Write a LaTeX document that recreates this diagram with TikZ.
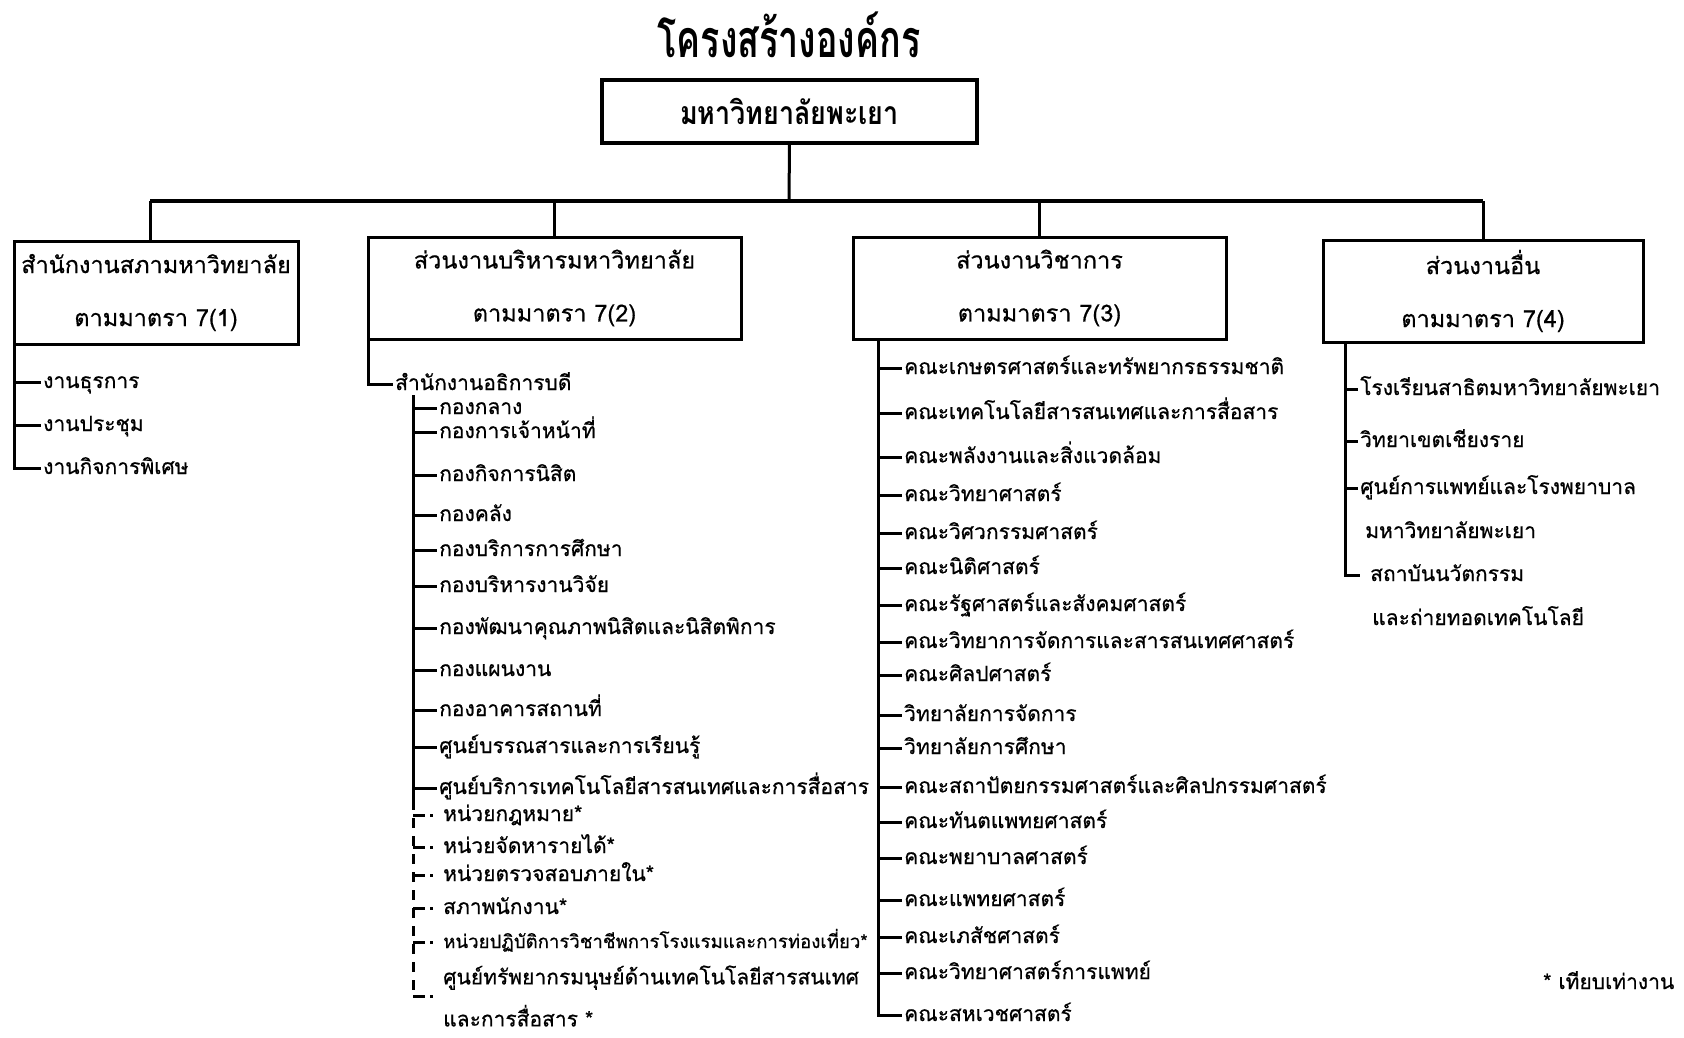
\documentclass[tikz,border=0pt]{standalone}
\usepackage{fontspec}
\newfontfamily\thaifont[Script=Thai, FakeBold=0.6]{Loma}
\newfontfamily\thaihead[Script=Thai]{Loma}
\usetikzlibrary{positioning}
\usetikzlibrary{calc}
\tikzset{>=latex}
\tikzset{unit/.style={rectangle, draw, line width=3pt, outer sep=0pt, align=center, font=\thaifont\fontsize{23.5}{53}\selectfont}}
\tikzset{item/.style={anchor=west, inner sep=2pt, text height=18pt, text depth=6pt, font=\thaifont\fontsize{21}{44}\selectfont}}
\tikzset{item2/.style={anchor=west, inner sep=1pt, align=left, font=\thaifont\fontsize{21}{42}\selectfont}}
\tikzset{link/.style={draw, line width=3pt}}
\tikzset{dlink/.style={draw, line width=3pt, dash pattern=on 12pt off 5pt on 3pt off 20pt}}
\tikzset{vlink/.style={draw, line width=3pt, dash pattern=on 10pt off 8pt}}

\begin{document}
\begin{tikzpicture}[x=1pt, y=-1pt]
    \useasboundingbox (0,0) rectangle (1684,1037);

    % ------- Title and university ------- %
    \node (title) at (789,35) {\scalebox{0.69}[1]{\thaihead\bfseries\fontsize{52}{52}\selectfont โครงสร้างองค์กร}};
    \node [unit, line width=3.4pt, minimum width=375pt, minimum height=63pt] (top) at (789.5,111.5)
        {\scalebox{0.84}[1]{\thaihead\bfseries\fontsize{32}{32}\selectfont มหาวิทยาลัยพะเยา}};

    \node [unit, minimum width=284pt, minimum height=103pt] (b1) at (156,292.5) {สำนักงานสภามหาวิทยาลัย\\ตามมาตรา 7(1)};
    \node [unit, minimum width=373pt, minimum height=102pt] (b2) at (554.5,288) {ส่วนงานบริหารมหาวิทยาลัย\\ตามมาตรา 7(2)};
    \node [unit, minimum width=373pt, minimum height=102pt] (b3) at (1039.5,288) {ส่วนงานวิชาการ\\ตามมาตรา 7(3)};
    \node [unit, minimum width=320pt, minimum height=102pt] (b4) at (1483,291) {ส่วนงานอื่น\\ตามมาตรา 7(4)};

    \coordinate (bar) at (789,201);
    \coordinate (d0) at ($(b1.north) + (-6,0)$);
    \draw [link] (top.south) -- (bar);
    \draw [link, line width=3.6pt] (d0 |- bar) -- (b4.north |- bar);
    \draw [link] (d0 |- bar) -- (d0);
    \draw [link] (b2.north |- bar) -- (b2.north);
    \draw [link] (b3.north |- bar) -- (b3.north);
    \draw [link] (b4.north |- bar) -- (b4.north);

    % ------- Start 7(1) ------- %
    \node [item] (s1) at (41,382) {งานธุรการ};
    \node [item] (s2) at (41,425) {งานประชุม};
    \node [item] (s3) at (41,468) {งานกิจการพิเศษ};
    \draw [link] (b1.south west) |- (s3.west);
    \draw [link] (b1.south west |- s1.west) -- (s1.west);
    \draw [link] (b1.south west |- s2.west) -- (s2.west);
    % ------- End 7(1) ------- %

    % ------- Start 7(2) ------- %
    \node [item] (ob) at (393,384) {สำนักงานอธิการบดี};
    \draw [link] (b2.south west) |- (ob.west);

    \node [item] (g1) at (437,408) {กองกลาง};
    \node [item] (g2) at (437,432) {กองการเจ้าหน้าที่};
    \node [item] (g3) at (437,475) {กองกิจการนิสิต};
    \node [item] (g4) at (437,515) {กองคลัง};
    \node [item] (g5) at (437,550) {กองบริการการศึกษา};
    \node [item] (g6) at (437,586) {กองบริหารงานวิจัย};
    \node [item] (g7) at (437,628) {กองพัฒนาคุณภาพนิสิตและนิสิตพิการ};
    \node [item] (g8) at (437,670) {กองแผนงาน};
    \node [item] (g9) at (437,710) {กองอาคารสถานที่};
    \node [item] (g10) at (437,747) {ศูนย์บรรณสารและการเรียนรู้};
    \node [item] (g11) at (437,788) {ศูนย์บริการเทคโนโลยีสารสนเทศและการสื่อสาร};

    \node [item] (d1) at (441,815) {หน่วยกฎหมาย*};
    \node [item] (d2) at (441,847) {หน่วยจัดหารายได้*};
    \node [item] (d3) at (441,875) {หน่วยตรวจสอบภายใน*};
    \node [item] (d4) at (441,908) {สภาพนักงาน*};
    \node [item, font=\thaifont\fontsize{18.6}{19}\selectfont] (d5) at (441,942) {หน่วยปฏิบัติการวิชาชีพการโรงแรมและการท่องเที่ยว*};
    \node [item2] (d6) at (442,996) {ศูนย์ทรัพยากรมนุษย์ด้านเทคโนโลยีสารสนเทศ\\และการสื่อสาร *};

    % The solid and the dashed spine below the office.
    \coordinate (sv) at (413,395);
    \coordinate (sd) at (413,800);
    \draw [link] (sv) -- (sd);
    \draw [vlink] (sd) -- (sd |- d6.west);
    \draw [link] (sv |- g1.west) -- (g1.west);
    \draw [link] (sv |- g2.west) -- (g2.west);
    \draw [link] (sv |- g3.west) -- (g3.west);
    \draw [link] (sv |- g4.west) -- (g4.west);
    \draw [link] (sv |- g5.west) -- (g5.west);
    \draw [link] (sv |- g6.west) -- (g6.west);
    \draw [link] (sv |- g7.west) -- (g7.west);
    \draw [link] (sv |- g8.west) -- (g8.west);
    \draw [link] (sv |- g9.west) -- (g9.west);
    \draw [link] (sv |- g10.west) -- (g10.west);
    \draw [link] (sv |- g11.west) -- (g11.west);
    \draw [dlink] (sv |- d1.west) -- (d1.west);
    \draw [dlink] (sv |- d2.west) -- (d2.west);
    \draw [dlink] (sv |- d3.west) -- (d3.west);
    \draw [dlink] (sv |- d4.west) -- (d4.west);
    \draw [dlink] (sv |- d5.west) -- (d5.west);
    \draw [dlink] (sv |- d6.west) -- (d6.west);
    % ------- End 7(2) ------- %

    % ------- Start 7(3) ------- %
    \node [item] (f1) at (902,368) {คณะเกษตรศาสตร์และทรัพยากรธรรมชาติ};
    \node [item] (f2) at (902,413) {คณะเทคโนโลยีสารสนเทศและการสื่อสาร};
    \node [item] (f3) at (902,457) {คณะพลังงานและสิ่งแวดล้อม};
    \node [item] (f4) at (902,495) {คณะวิทยาศาสตร์};
    \node [item] (f5) at (902,533) {คณะวิศวกรรมศาสตร์};
    \node [item] (f6) at (902,568) {คณะนิติศาสตร์};
    \node [item] (f7) at (902,605) {คณะรัฐศาสตร์และสังคมศาสตร์};
    \node [item] (f8) at (902,642) {คณะวิทยาการจัดการและสารสนเทศศาสตร์};
    \node [item] (f9) at (902,675) {คณะศิลปศาสตร์};
    \node [item] (f10) at (902,715) {วิทยาลัยการจัดการ};
    \node [item] (f11) at (902,748) {วิทยาลัยการศึกษา};
    \node [item] (f12) at (902,787) {คณะสถาปัตยกรรมศาสตร์และศิลปกรรมศาสตร์};
    \node [item] (f13) at (902,822) {คณะทันตแพทยศาสตร์};
    \node [item] (f14) at (902,858) {คณะพยาบาลศาสตร์};
    \node [item] (f15) at (902,900) {คณะแพทยศาสตร์};
    \node [item] (f16) at (902,937) {คณะเภสัชศาสตร์};
    \node [item] (f17) at (902,973) {คณะวิทยาศาสตร์การแพทย์};
    \node [item] (f18) at (902,1015) {คณะสหเวชศาสตร์};

    \coordinate (fv) at ($(b3.south west) + (25,0)$);
    \draw [link] (fv) |- (f18.west);
    \draw [link] (fv |- f1.west) -- (f1.west);
    \draw [link] (fv |- f2.west) -- (f2.west);
    \draw [link] (fv |- f3.west) -- (f3.west);
    \draw [link] (fv |- f4.west) -- (f4.west);
    \draw [link] (fv |- f5.west) -- (f5.west);
    \draw [link] (fv |- f6.west) -- (f6.west);
    \draw [link] (fv |- f7.west) -- (f7.west);
    \draw [link] (fv |- f8.west) -- (f8.west);
    \draw [link] (fv |- f9.west) -- (f9.west);
    \draw [link] (fv |- f10.west) -- (f10.west);
    \draw [link] (fv |- f11.west) -- (f11.west);
    \draw [link] (fv |- f12.west) -- (f12.west);
    \draw [link] (fv |- f13.west) -- (f13.west);
    \draw [link] (fv |- f14.west) -- (f14.west);
    \draw [link] (fv |- f15.west) -- (f15.west);
    \draw [link] (fv |- f16.west) -- (f16.west);
    \draw [link] (fv |- f17.west) -- (f17.west);
    % ------- End 7(3) ------- %

    % ------- Start 7(4) ------- %
    \node [item] (o1) at (1358,389) {โรงเรียนสาธิตมหาวิทยาลัยพะเยา};
    \node [item] (o2) at (1358,441) {วิทยาเขตเชียงราย};
    \node [item] (o3) at (1358,488) {ศูนย์การแพทย์และโรงพยาบาล};
    \node [item] (o3b) at ($(o3.west) + (5,44)$) {มหาวิทยาลัยพะเยา};
    \node [item, inner xsep=10pt] (o4) at (1360,575) {สถาบันนวัตกรรม};
    \node [item] (o4b) at ($(o4.west) + (10,44)$) {และถ่ายทอดเทคโนโลยี};

    \coordinate (ov) at ($(b4.south west) + (22,0)$);
    \draw [link] (ov) |- (o4.west);
    \draw [link] (ov |- o1.west) -- (o1.west);
    \draw [link] (ov |- o2.west) -- (o2.west);
    \draw [link] (ov |- o3.west) -- (o3.west);
    % ------- End 7(4) ------- %

    \node [item] (note) at (1541,983) {* เทียบเท่างาน};
\end{tikzpicture}
\end{document}
